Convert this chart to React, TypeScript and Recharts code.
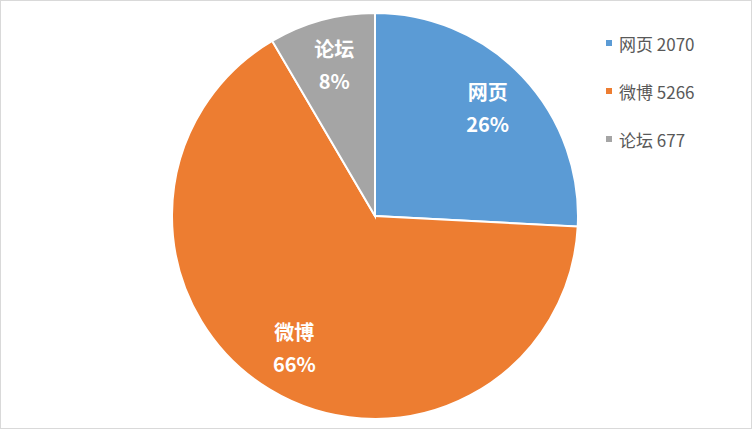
import { Cell, Legend, Pie, PieChart } from 'recharts'

const CATEGORIES = ['网页', '微博', '论坛']
const COUNTS = [2070, 5266, 677]
const COLORS = ['#5b9bd5', '#ed7d31', '#a5a5a5']

const FONT = '"Noto Sans CJK SC", "Open Sans", sans-serif'
const RADIAN = Math.PI / 180

const data = CATEGORIES.map((name, i) => ({ name, value: COUNTS[i] }))
const total = COUNTS.reduce((a, b) => a + b, 0)

function SliceLabel({ cx, cy, midAngle, outerRadius, name, value }: any) {
  const r = outerRadius * 0.765
  const x = cx + r * Math.cos(-midAngle * RADIAN)
  const y = cy + r * Math.sin(-midAngle * RADIAN)
  const pct = Math.round((value / total) * 100)
  return (
    <text x={x} y={y} fill="#fff" textAnchor="middle" fontFamily={FONT} fontSize={20} fontWeight={700}>
      <tspan x={x} dy={-9}>{name}</tspan>
      <tspan x={x} dy={32}>{pct}%</tspan>
    </text>
  )
}

function LegendList() {
  return (
    <div style={{ fontFamily: FONT }}>
      {data.map((d, i) => (
        <div key={d.name} style={{ display: 'flex', alignItems: 'center', height: 48, color: '#595959', fontSize: 17 }}>
          <span style={{ width: 6, height: 6, background: COLORS[i], marginRight: 7 }} />
          <span>{d.name} {d.value}</span>
        </div>
      ))}
    </div>
  )
}

export default function App() {
  return (
    <div
      style={{
        position: 'absolute',
        left: 0,
        top: 0,
        width: 752,
        height: 429,
        boxSizing: 'border-box',
        border: '1px solid #d9d9d9',
        background: '#fff',
      }}
    >
      <PieChart width={750} height={427} margin={{ top: 0, right: 0, bottom: 0, left: 0 }}>
        <Pie
          data={data}
          dataKey="value"
          nameKey="name"
          cx={374}
          cy={215}
          outerRadius={203}
          startAngle={90}
          endAngle={-270}
          stroke="#fff"
          strokeWidth={2}
          label={SliceLabel}
          labelLine={false}
          isAnimationActive={false}
        >
          {data.map((d, i) => (
            <Cell key={d.name} fill={COLORS[i]} />
          ))}
        </Pie>
        <Legend
          content={<LegendList />}
          layout="vertical"
          verticalAlign="top"
          align="right"
          wrapperStyle={{ left: 605, top: 18, width: 140 }}
        />
      </PieChart>
    </div>
  )
}
